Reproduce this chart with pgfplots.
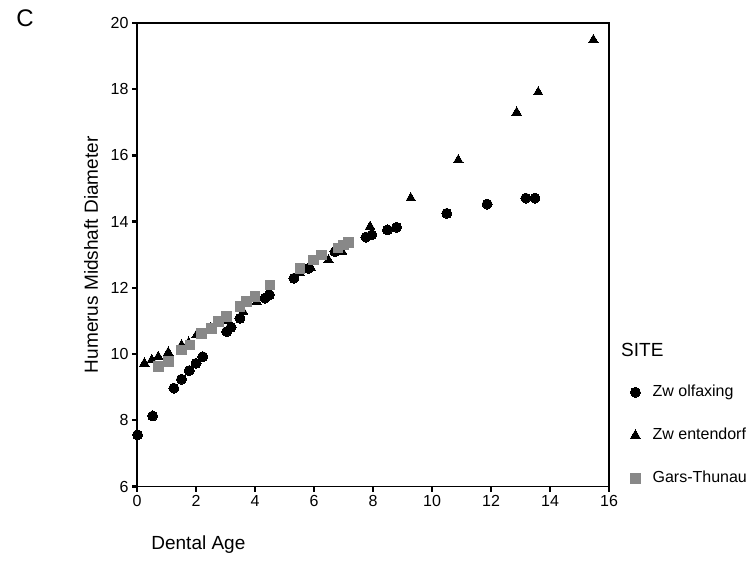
\documentclass[border=0pt]{standalone}
\usepackage{fontspec}
\setmainfont{Liberation Sans}
\usepackage{pgfplots}
\pgfplotsset{compat=1.18}
\definecolor{sqgray}{RGB}{136,136,136}
\begin{document}
\begin{tikzpicture}[x=1pt,y=1pt]
\useasboundingbox (0,0) rectangle (751,575);
\node[anchor=center, font=\fontsize{24}{26}\selectfont] at (25,557) {C};
\node[anchor=west, inner sep=0pt, font=\fontsize{19}{22}\selectfont] at (621,225) {SITE};
\begin{axis}[
  at={(137pt,88.5pt)}, anchor=south west,
  scale only axis, width=472pt, height=463.5pt,
  xmin=0, xmax=16, ymin=6, ymax=20,
  xtick={0,2,...,16}, ytick={6,8,...,20},
  tick align=outside, tick pos=left,
  major tick length=5pt,
  every tick/.style={black, line width=2.4pt},
  axis line style={black, line width=1.2pt},
  /pgf/number format/assume math mode=true,
  ticklabel style={font=\fontsize{16}{19}\selectfont},
  xlabel={Dental Age},
  ylabel={Humerus Midshaft Diameter},
  label style={font=\fontsize{19}{22}\selectfont},
  xlabel style={at={(axis description cs:0.023,-0.126)}, anchor=west},
  ylabel style={at={(axis description cs:-0.0975,0.5)}, anchor=center, rotate=0},
  legend style={draw=none, fill=none, inner sep=0pt, at={(1,0)}, anchor=south west,
    xshift=21pt, yshift=0pt, row sep=27pt, font=\fontsize{16}{19}\selectfont,
    nodes={inner sep=0pt, text height=12pt, text depth=4pt}},
  legend cell align=left,
  legend image code/.code={\draw[#1] plot coordinates {(5pt,0pt)}; \path (0pt,-1pt) (22pt,1pt);},
]
\addplot[only marks, mark=*, mark size=5pt, mark options={fill=black, draw=black, line width=0pt}] coordinates {
(0.02,7.56) (0.53,8.13) (1.25,8.97) (1.51,9.24) (1.77,9.50) (2.0,9.72) (2.23,9.92)
(3.04,10.68) (3.19,10.81) (3.49,11.08) (4.34,11.69) (4.49,11.79) (5.32,12.29)
(5.81,12.59) (6.71,13.09) (7.76,13.53) (7.96,13.6) (8.49,13.75) (8.80,13.83)
(10.5,14.25) (11.87,14.53) (13.18,14.71) (13.49,14.71)
};
\addlegendentry{Zw olfaxing}
\addplot[only marks, mark=triangle*, mark size=5.5pt, mark options={fill=black, draw=black, line width=0pt}] coordinates {
(0.25,9.72) (0.5,9.82) (0.72,9.92) (1.06,10.05) (1.51,10.27) (1.75,10.35) (2.02,10.58)
(2.5,10.8) (3.1,11.0) (3.6,11.28) (4.06,11.58) (4.4,11.75) (5.5,12.45) (5.9,12.6)
(6.49,12.84) (6.95,13.1) (7.9,13.85) (9.28,14.71) (10.89,15.86) (12.87,17.3)
(13.6,17.91) (15.47,19.49)
};
\addlegendentry{Zw entendorf}
\addplot[only marks, mark=square*, mark size=4.8pt, mark options={fill=sqgray, draw=sqgray, line width=0pt}] coordinates {
(0.72,9.62) (1.06,9.77) (1.51,10.12) (1.8,10.27) (2.19,10.63) (2.53,10.78) (2.76,10.98)
(3.04,11.13) (3.49,11.43) (3.72,11.58) (4.0,11.73) (4.51,12.09) (5.53,12.59)
(5.98,12.84) (6.26,12.99) (6.82,13.2) (7.0,13.3) (7.16,13.37)
};
\addlegendentry{Gars-Thunau}
\end{axis}
\end{tikzpicture}
\end{document}
